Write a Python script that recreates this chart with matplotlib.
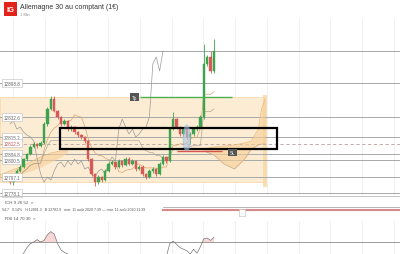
import numpy as np
import pandas as pd
import matplotlib
matplotlib.use("Agg")
import matplotlib.pyplot as plt
from matplotlib.patches import Rectangle, Ellipse
from matplotlib.lines import Line2D

plt.rcParams['font.family'] = ['Liberation Sans', 'DejaVu Sans']

# 1-minute candles (price), open of first candle then closes
first_open = 12793.5
closes = [12787.9, 12793.5, 12800.3, 12804.7, 12813.7, 12819.3, 12827.2, 12830.5, 12828.3, 12831.6,
          12852.9, 12869.7, 12880.9, 12867.5, 12860.7, 12852.9, 12856.3, 12847.3, 12849.5, 12843.9,
          12840.6, 12838.3, 12833.9, 12813.7, 12796.9, 12787.9, 12793.5, 12790.2, 12800.3, 12808.1,
          12810.3, 12804.7, 12811.5, 12807.0, 12813.7, 12808.1, 12811.5, 12802.5, 12804.7, 12796.9,
          12793.5, 12800.3, 12802.5, 12796.9, 12808.1, 12816.0, 12811.5, 12847.3, 12858.5, 12849.5,
          12841.7, 12847.3, 12838.3, 12841.7, 12847.3, 12849.5, 12860.7, 12920.1, 12928.0, 12912.3,
          12934.7]
highs = [12795.0, 12795.2, 12802.0, 12806.5, 12815.0, 12821.0, 12829.0, 12832.5, 12832.0, 12833.5,
         12855.0, 12872.0, 12884.0, 12884.5, 12869.0, 12862.0, 12858.5, 12857.5, 12851.5, 12851.0,
         12845.5, 12842.0, 12839.5, 12835.5, 12815.0, 12798.5, 12795.5, 12795.0, 12802.0, 12810.0,
         12812.5, 12812.0, 12813.5, 12813.0, 12816.0, 12815.5, 12813.5, 12813.0, 12807.0, 12806.5,
         12798.5, 12802.0, 12804.5, 12804.0, 12810.0, 12818.0, 12817.5, 12849.5, 12866.3, 12860.0,
         12851.0, 12849.0, 12849.0, 12843.5, 12849.0, 12851.5, 12862.5, 12942.5, 12930.0, 12935.0,
         12948.1]
lows = [12786.0, 12784.5, 12792.0, 12799.0, 12803.5, 12812.0, 12818.0, 12826.0, 12826.5, 12827.0,
        12830.0, 12851.0, 12868.5, 12866.0, 12858.5, 12851.0, 12851.5, 12845.5, 12845.0, 12842.0,
        12838.5, 12836.5, 12832.0, 12811.5, 12794.5, 12784.0, 12786.0, 12788.0, 12789.0, 12799.0,
        12806.5, 12803.0, 12803.5, 12805.0, 12805.5, 12806.5, 12806.5, 12800.5, 12801.0, 12795.0,
        12791.5, 12792.0, 12798.5, 12795.0, 12795.5, 12806.5, 12809.5, 12810.0, 12846.0, 12847.5,
        12839.5, 12840.0, 12836.0, 12830.0, 12840.0, 12845.5, 12848.0, 12859.0, 12918.0, 12910.5,
        12910.0]

# horizontal levels drawn on chart, and their price tags
level_prices = [12898.8, 12860.7, 12838.3, 12819.3, 12812.6, 12793.5, 12775.6]
level_labels = ["12898.8", "12832.6", "12815.2", "12804.8", "12800.5", "12797.1", "12778.1"]
top_line = 12934.7
last_price = 12830.0
last_label = "12812.5"

# ichimoku cloud
cloud_left_x = [-3, 0, 3, 6, 9, 12, 15, 17]
cloud_left_a = [12795.8, 12800.3, 12804.7, 12810.3, 12816.0, 12820.4, 12822.7, 12822.7]
cloud_left_b = [12791.3, 12793.5, 12796.9, 12800.3, 12804.7, 12810.3, 12816.0, 12821.6]
cloud_right_x = [57, 60, 63, 66, 69, 71, 73, 74, 75]
cloud_right_a = [12824.9, 12827.2, 12828.3, 12829.4, 12831.6, 12833.9, 12847.3, 12869.7, 12880.9]
cloud_right_b = [12822.7, 12818.2, 12808.1, 12802.5, 12813.7, 12824.9, 12829.4, 12830.5, 12830.5]

# RSI 14
rsi = [45, 45, 47, 52, 56, 63, 68, 70, 73, 70, 72, 79, 83, 80, 68, 60, 57, 55, 53, 50,
       48, 47, 45, 40, 36, 34, 38, 37, 42, 46, 47, 44, 48, 46, 49, 46, 48, 44, 45, 42,
       41, 45, 46, 43, 49, 53, 52, 68, 71, 67, 63, 61, 59, 55, 61, 56, 64, 74, 75, 72, 76]

opens = [first_open] + closes[:-1]
n = len(closes)
xs = np.arange(n)
XL = (-2.94, 114.7)

fig = plt.figure(figsize=(4, 2.55), dpi=100)
ax = fig.add_axes([0, 1 - 197 / 255, 1, 177 / 255])
ax.set_xlim(*XL)
ax.set_ylim(12772.3, 12970.5)
ax.axis('off')

# light grid
for gx in np.arange(0.9, 115, 9.33):
    ax.axvline(gx, color='#eeeeee', lw=0.6, zorder=0)

# orange zone and black box
ax.add_patch(Rectangle((XL[0], 12787.9), 75 - XL[0], 12883.1 - 12787.9,
                       facecolor='#fdecd4', edgecolor='#f6d3a0', lw=0.5, zorder=1))
ax.add_patch(Rectangle((74.4, 12782.0), 1.3, 12885.0 - 12782.0,
                       facecolor='#f8d7a4', edgecolor='none', alpha=0.8, zorder=1))

# levels
ax.axhline(top_line, color='#a8a8a8', lw=0.7, zorder=2)
for p, lab in zip(level_prices, level_labels):
    ax.axhline(p, color='#a8a8a8', lw=0.7, zorder=2)
    ax.text(0.008, p, lab, transform=ax.get_yaxis_transform(), fontsize=3.3, color='#666666',
            va='center', ha='left', zorder=8,
            bbox=dict(boxstyle='square,pad=0.35', fc='white', ec='#bbbbbb', lw=0.4))
ax.axhline(last_price, color='#b9a0a0', lw=0.6, ls=(0, (4, 3)), zorder=2)
ax.text(0.008, last_price + 1.5, last_label, transform=ax.get_yaxis_transform(), fontsize=3.3,
        color='#c05050', va='center', ha='left', zorder=8,
        bbox=dict(boxstyle='square,pad=0.35', fc='white', ec='#bbbbbb', lw=0.4))

# cloud
ax.fill_between(cloud_left_x, cloud_left_a, cloud_left_b, color='#f7cf95', alpha=0.6, lw=0, zorder=3)
ax.plot(cloud_left_x, cloud_left_a, color='#e9b777', lw=0.5, zorder=3)
ax.fill_between(cloud_right_x, cloud_right_a, cloud_right_b, color='#f7cf95', alpha=0.6, lw=0, zorder=3)
ax.plot(cloud_right_x, cloud_right_a, color='#e9b777', lw=0.5, zorder=3)
ax.plot(cloud_right_x, cloud_right_b, color='#c9a98a', lw=0.5, zorder=3)

# tenkan / kijun / chikou from the candles
hs = pd.Series(highs)
ls_ = pd.Series(lows)
tenkan = (hs.rolling(9, min_periods=1).max() + ls_.rolling(9, min_periods=1).min()) / 2
kijun = (hs.rolling(26, min_periods=1).max() + ls_.rolling(26, min_periods=1).min()) / 2
ax.plot(xs, tenkan, color='#d9a36a', lw=0.5, zorder=4)
ax.plot(xs, kijun, color='#b0a89c', lw=0.5, zorder=4)
ax.plot(xs[:-15] - 0, closes[15:], color='#9a9a9a', lw=0.5, zorder=4)

# candles
for i in range(n):
    up = closes[i] >= opens[i]
    col = '#3fa34d' if up else '#d65a55'
    ax.vlines(xs[i], lows[i], highs[i], color=col, lw=0.6, zorder=5)
    lo_b = min(opens[i], closes[i])
    ax.add_patch(Rectangle((xs[i] - 0.35, lo_b), 0.7, max(abs(closes[i] - opens[i]), 0.4),
                           facecolor=col, edgecolor=col, lw=0.3, zorder=6))

ax.add_patch(Rectangle((14.7, 12824.9), 78.5 - 14.7, 12848.4 - 12824.9,
                       facecolor='none', edgecolor='black', lw=1.6, zorder=7))
ax.add_patch(Ellipse((52.0, 12837.0), 2.2, 30, facecolor='#a9c8e8', edgecolor='#7fa6cc',
                     alpha=0.6, lw=0.4, zorder=7))

# take profit / stop loss
ax.hlines(12883.1, 38.2, 65.3, color='#4caf50', lw=1.0, zorder=7)
ax.text(36.6, 12883.1, "Tp", fontsize=3.3, color='white', ha='center', va='center', zorder=8,
        bbox=dict(boxstyle='square,pad=0.3', fc='#555555', ec='none'))
ax.hlines(12822.7, 49.1, 62.4, color='#d9534f', lw=1.0, zorder=7)
ax.text(65.4, 12821.0, "SL", fontsize=3.3, color='white', ha='center', va='center', zorder=8,
        bbox=dict(boxstyle='square,pad=0.3', fc='#555555', ec='none'))

# header
fig.add_artist(Rectangle((4 / 400, 1 - 17 / 255), 13 / 400, 14 / 255, transform=fig.transFigure,
                         facecolor='#e2231a', edgecolor='none'))
fig.text(10.5 / 400, 1 - 10 / 255, "IG", color='white', fontsize=5.5, fontweight='bold',
         ha='center', va='center')
fig.text(20 / 400, 1 - 7.5 / 255, "Allemagne 30 au comptant (1€)", fontsize=5, color='#333333',
         va='center')
fig.text(20 / 400, 1 - 14.5 / 255, "1 Min", fontsize=2.8, color='#888888', va='center')

# indicator strip
fig.add_artist(Line2D([0, 1], [1 - 197 / 255] * 2, transform=fig.transFigure, color='#bbbbbb', lw=0.6))
fig.text(5 / 400, 1 - 203 / 255, "ICH 9 26 52  ×", fontsize=3.2, color='#555555', va='center')
fig.text(2 / 400, 1 - 210 / 255,
         "54.7   0.14%   H 12891.3   B 12782.9   mar. 11 août 2020 7:39 — mar. 11 août 2020 11:39",
         fontsize=2.6, color='#555555', va='center')
fig.add_artist(Line2D([163 / 400, 1], [1 - 208 / 255] * 2, transform=fig.transFigure,
                      color='#aaaaaa', lw=0.6))
fig.add_artist(Line2D([163 / 400, 1], [1 - 211 / 255] * 2, transform=fig.transFigure,
                      color='#d48a8a', lw=1.5))
fig.text(242 / 400, 1 - 213.5 / 255, "...", fontsize=2.5, color='#777777', ha='center', va='center',
         bbox=dict(boxstyle='square,pad=0.3', fc='white', ec='#bbbbbb', lw=0.4))
fig.text(5 / 400, 1 - 219 / 255, "RSI 14 70 30  ×", fontsize=3.2, color='#555555', va='center')

# RSI pane
rax = fig.add_axes([0, 0, 1, 33 / 255])
rax.set_xlim(*XL)
rax.set_ylim(55, 96.25)
rax.axis('off')
for gx in np.arange(0.9, 115, 9.33):
    rax.axvline(gx, color='#eeeeee', lw=0.6, zorder=0)
rax.axhline(70, color='#9a9a9a', lw=0.7)
r = np.array(rsi, dtype=float)
rax.fill_between(xs, r, 70, where=r > 70, interpolate=True, color='#f7c6c6', alpha=0.7, lw=0)
rax.plot(xs, r, color='#777777', lw=0.5)

fig.savefig("out.png", dpi=100)
